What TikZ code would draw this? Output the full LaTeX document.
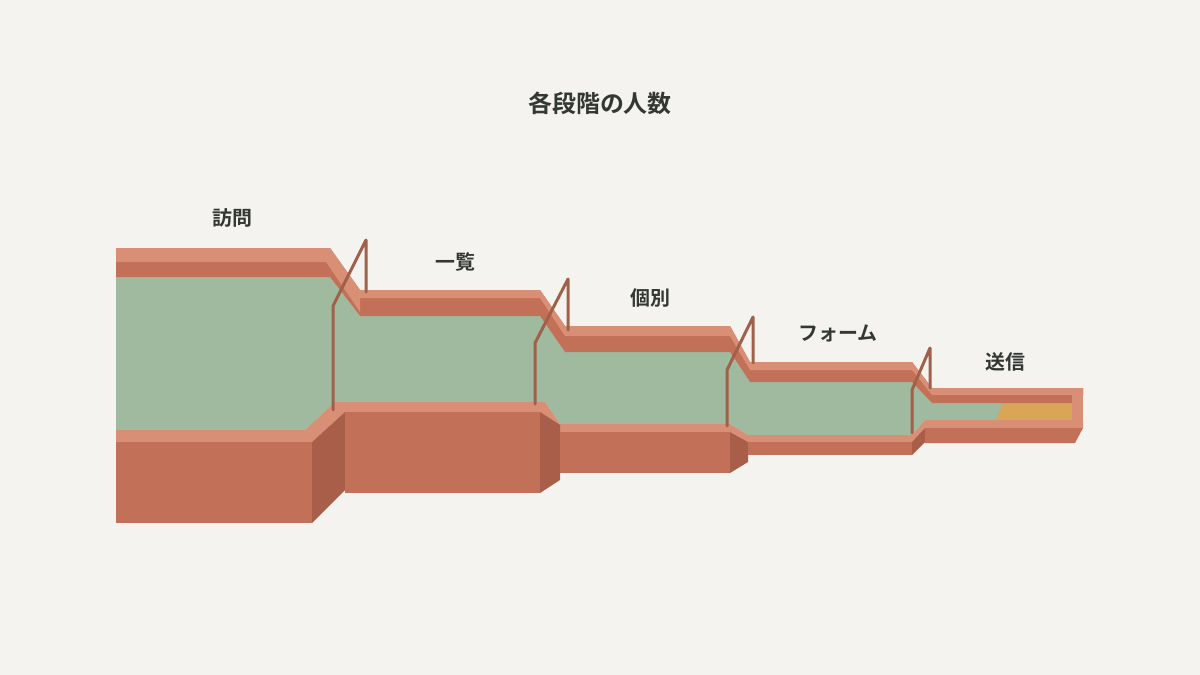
\documentclass[tikz,border=0pt]{standalone}
\usepackage{fontspec}
\newfontfamily\cjk{Noto Sans CJK JP}[BoldFont={* Bold}]
\definecolor{bg}{HTML}{F4F3F0}
\definecolor{lite}{HTML}{D98E76}
\definecolor{mid}{HTML}{C27057}
\definecolor{dk}{HTML}{A85E48}
\definecolor{grn}{HTML}{9FBA9E}
\definecolor{org}{HTML}{D9A557}
\definecolor{pole}{HTML}{A0614B}
\definecolor{txt}{HTML}{333835}
\begin{document}
\begin{tikzpicture}[x=1bp,y=-1bp,
  lbl/.style={font=\cjk\bfseries\fontsize{20}{24}\selectfont,text=txt},
  pl/.style={draw=pole,line width=3bp,line cap=round,line join=round}]
\fill[bg] (0,0) rectangle (1200,675);
\useasboundingbox (0,0) rectangle (1200,675);
% green interior
\fill[grn] (116,277)--(330,277)--(360,316)--(540,316)--(565,352)--(730,352)--(750,382)--(912,382)--(932,403)--(1072,403)--(1072,420)--(925,420)--(912,435)--(748,435)--(730,424)--(560,424)--(545,402)--(335,402)--(305,430)--(116,430)--cycle;
\fill[org] (1003,403)--(1072,403)--(1072,420)--(996,420)--cycle;
% top wall
\fill[mid] (116,248)--(330,248)--(360,290)--(540,290)--(565,326)--(730,326)--(750,362)--(912,362)--(932,388)--(1083,388)--(1083,395)--(1072,395)--(1072,403)--(932,403)--(912,382)--(750,382)--(730,352)--(565,352)--(540,316)--(360,316)--(330,277)--(116,277)--cycle;
\fill[lite] (116,248)--(330,248)--(360,290)--(540,290)--(565,326)--(730,326)--(750,362)--(912,362)--(932,388)--(1083,388)--(1083,395)--(932,395)--(912,370)--(750,370)--(730,336)--(565,336)--(540,298)--(360,298)--(360,312)--(326,262)--(116,262)--cycle;
% right rim
\fill[lite] (1072,388)--(1083,388)--(1083,428)--(1072,428)--cycle;
% bottom wall top strip
\fill[lite] (116,430)--(305,430)--(335,402)--(545,402)--(560,424)--(730,424)--(748,435)--(912,435)--(925,420)--(1083,420)--(1083,428)--(925,428)--(912,442)--(748,442)--(730,432)--(560,432)--(540,412)--(345,412)--(312,442)--(116,442)--cycle;
% fronts
\fill[mid] (116,442) rectangle (312,523);
\fill[dk] (312,442)--(345,412)--(345,490)--(312,523)--cycle;
\fill[mid] (345,412) rectangle (540,493);
\fill[dk] (540,412)--(560,425)--(560,480)--(540,493)--cycle;
\fill[mid] (560,432) rectangle (730,473);
\fill[dk] (730,432)--(748,442)--(748,462)--(730,473)--cycle;
\fill[mid] (748,442) rectangle (912,455);
\fill[dk] (912,442)--(925,428)--(925,442)--(912,455)--cycle;
\fill[mid] (925,428)--(1083,428)--(1075,443)--(925,443)--cycle;
% poles
\draw[pl] (333,410)--(333,306)--(366,240)--(366,292);
\draw[pl] (535,404)--(535,343)--(568,279)--(568,330);
\draw[pl] (727,426)--(727,370)--(753,317)--(753,363);
\draw[pl] (912,433)--(912,390)--(930,348)--(930,388);
% texts
\node[lbl,font=\cjk\bfseries\fontsize{24}{28}\selectfont] (title) at (600,103) {各段階の人数};
\node[lbl] (l1) at (232,218) {訪問};
\node[lbl] (l2) at (455,262) {一覧};
\node[lbl] (l3) at (650,298) {個別};
\node[lbl] (l4) at (838,333) {フォーム};
\node[lbl] (l5) at (1005,362) {送信};
\end{tikzpicture}
\end{document}
